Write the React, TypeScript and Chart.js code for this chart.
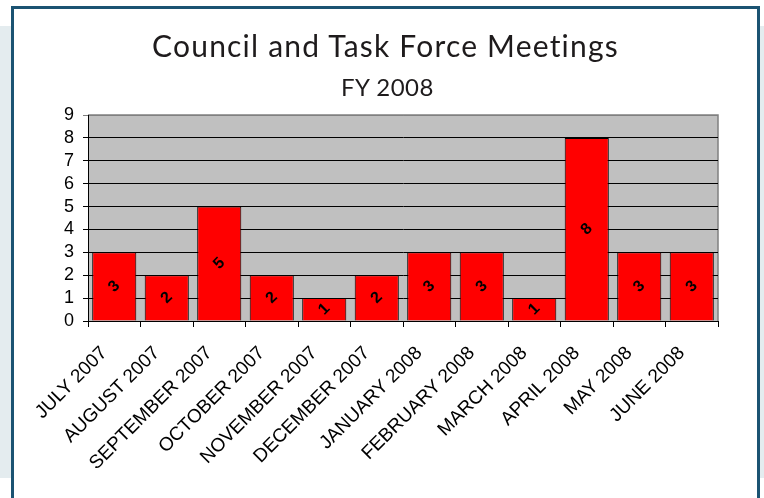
import { useEffect, useRef } from "react";
import { Chart, registerables } from "chart.js";

Chart.register(...registerables);

const categories = [
  "JULY 2007",
  "AUGUST 2007",
  "SEPTEMBER 2007",
  "OCTOBER 2007",
  "NOVEMBER 2007",
  "DECEMBER 2007",
  "JANUARY 2008",
  "FEBRUARY 2008",
  "MARCH 2008",
  "APRIL 2008",
  "MAY 2008",
  "JUNE 2008",
];
const meetings = [3, 2, 5, 2, 1, 2, 3, 3, 1, 8, 3, 3];
const yMin = 0;
const yMax = 9;
const yStep = 1;
const titleText = "Council and Task Force Meetings";
const subtitleText = "FY 2008";

const AXIS_FONT = "'Liberation Sans', Arial, sans-serif";

const plotBackground = {
  id: "plotBackground",
  beforeDraw(chart: any) {
    const { ctx, chartArea } = chart;
    ctx.save();
    ctx.fillStyle = "#C0C0C0";
    ctx.fillRect(chartArea.left, chartArea.top, chartArea.right - chartArea.left, chartArea.bottom - chartArea.top);
    ctx.strokeStyle = "#808080";
    ctx.lineWidth = 1.5;
    ctx.beginPath();
    ctx.moveTo(chartArea.left, chartArea.top);
    ctx.lineTo(chartArea.right, chartArea.top);
    ctx.lineTo(chartArea.right, chartArea.bottom);
    ctx.stroke();
    ctx.restore();
  },
};

const barLabels = {
  id: "barLabels",
  afterDatasetsDraw(chart: any) {
    const { ctx } = chart;
    const meta = chart.getDatasetMeta(0);
    const values = chart.data.datasets[0].data as number[];
    meta.data.forEach((bar: any, i: number) => {
      const p = bar.getProps(["x", "y", "base"], true);
      ctx.save();
      ctx.translate(p.x, (p.y + p.base) / 2);
      ctx.rotate(-Math.PI / 4);
      ctx.font = "bold 16px " + AXIS_FONT;
      ctx.fillStyle = "#000";
      ctx.textAlign = "center";
      ctx.textBaseline = "middle";
      ctx.fillText(String(values[i]), 0, 0);
      ctx.restore();
    });
  },
};

export default function App() {
  const ref = useRef<HTMLCanvasElement>(null);

  useEffect(() => {
    const chart = new Chart(ref.current!, {
      type: "bar",
      data: {
        labels: categories,
        datasets: [
          {
            data: meetings,
            backgroundColor: "#FF0000",
            borderColor: "#000000",
            borderWidth: 1,
            barPercentage: 0.84,
            categoryPercentage: 1,
          },
        ],
      },
      options: {
        animation: false,
        responsive: false,
        maintainAspectRatio: false,
        layout: { padding: { left: 0, right: 39, top: 106, bottom: 0 } },
        plugins: {
          legend: { display: false },
          tooltip: { enabled: false },
          title: { display: false },
        },
        scales: {
          x: {
            grid: { offset: true, drawOnChartArea: false, color: "#000", tickLength: 6 },
            border: { color: "#000" },
            ticks: {
              color: "#000",
              font: { family: AXIS_FONT, size: 19 },
              maxRotation: 45,
              minRotation: 45,
              autoSkip: false,
              labelOffset: -10,
              padding: 15,
            },
            afterFit: (s: any) => {
              s.height = 177;
            },
          },
          y: {
            min: yMin,
            max: yMax,
            ticks: {
              stepSize: yStep,
              autoSkip: false,
              color: "#000",
              font: { family: AXIS_FONT, size: 18 },
              padding: 9,
            },
            grid: {
              color: (c: any) => (c.tick && c.tick.value === yMax ? "#808080" : "#000"),
              tickLength: 5,
            },
            border: { color: "#000" },
            afterFit: (s: any) => {
              s.width = 74;
            },
          },
        },
      },
      plugins: [plotBackground, barLabels],
    });
    return () => chart.destroy();
  }, []);

  return (
    <div
      style={{
        position: "absolute",
        left: 0,
        top: 0,
        width: 764,
        height: 498,
        background: "#fff",
        overflow: "hidden",
      }}
    >
      <div style={{ position: "absolute", left: 0, top: 26, width: 11, height: 452, background: "#E4ECEF" }} />
      <div style={{ position: "absolute", left: 760, top: 26, width: 4, height: 452, background: "#E4ECEF" }} />
      <div
        style={{
          position: "absolute",
          left: 11,
          top: 6,
          width: 743,
          height: 520,
          border: "3px solid #1B5372",
          background: "#fff",
        }}
      >
        <canvas ref={ref} width={743} height={489} style={{ display: "block", width: 743, height: 489 }} />
      </div>
      <div
        style={{
          position: "absolute",
          left: 11,
          top: 27,
          width: 749,
          textAlign: "center",
          fontFamily: "Lato, sans-serif",
          fontSize: 30,
          lineHeight: 1.2,
          letterSpacing: "1.2px",
          color: "#1E1B1C",
          whiteSpace: "nowrap",
        }}
      >
        {titleText}
      </div>
      <div
        style={{
          position: "absolute",
          left: 11,
          top: 73,
          width: 753,
          textAlign: "center",
          fontFamily: "Lato, sans-serif",
          fontSize: 24,
          lineHeight: 1.2,
          letterSpacing: "0.5px",
          color: "#1E1B1C",
          whiteSpace: "nowrap",
        }}
      >
        {subtitleText}
      </div>
    </div>
  );
}
